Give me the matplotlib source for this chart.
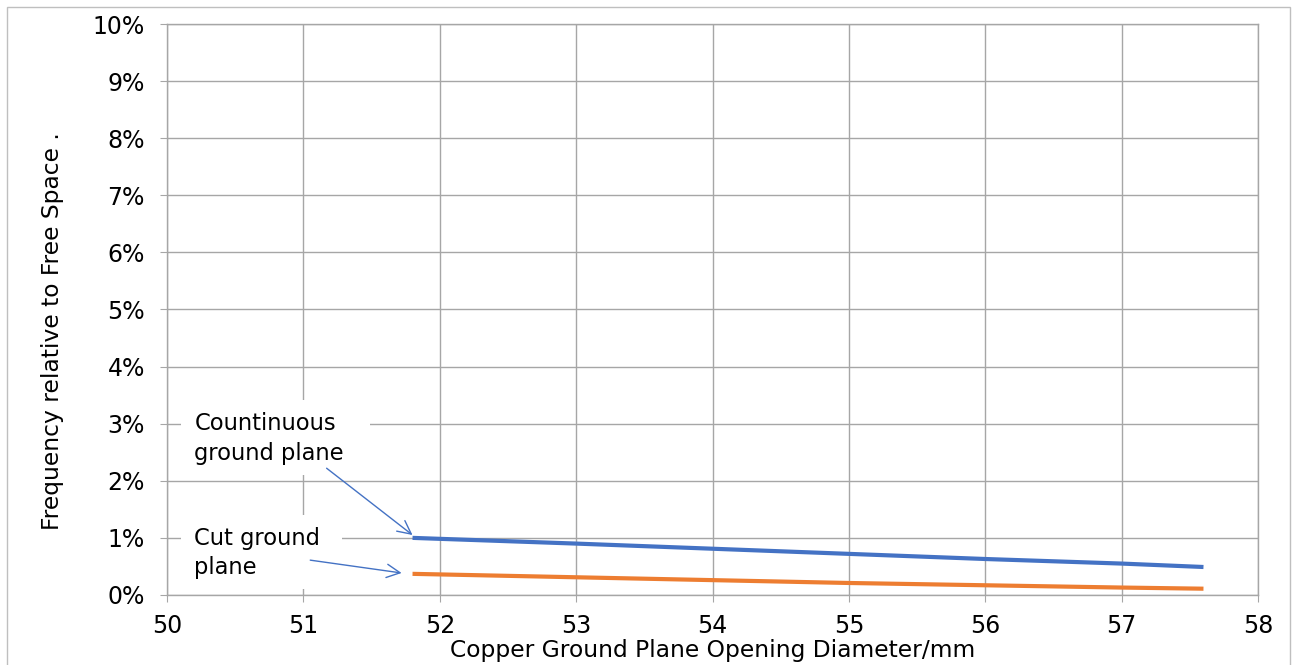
import matplotlib.pyplot as plt
from matplotlib.ticker import PercentFormatter
from matplotlib.patches import Rectangle

# diameters (mm) and frequency shift relative to free space (%)
diameter = [51.8, 53, 54, 55, 56, 57, 57.6]
continuous = [1.00, 0.90, 0.81, 0.72, 0.63, 0.55, 0.49]
cut = [0.37, 0.31, 0.26, 0.21, 0.17, 0.13, 0.11]

plt.rcParams['font.family'] = 'DejaVu Sans'
fs = 16.8

fig = plt.figure(figsize=(12.92, 6.65), dpi=100)
ax = fig.add_axes([0.1293, 0.1053, 0.8444, 0.8586])

grid_col = '#a6a6a6'
ax.plot(diameter, continuous, color='#4472c4', lw=3, solid_capstyle='butt', zorder=3)
ax.plot(diameter, cut, color='#ed7d31', lw=3, solid_capstyle='butt', zorder=3)

ax.set_xlim(50, 58)
ax.set_ylim(0, 10)
ax.set_xticks(range(50, 59))
ax.set_yticks(range(0, 11))
ax.yaxis.set_major_formatter(PercentFormatter(decimals=0))
ax.grid(True, color=grid_col, lw=1)
ax.set_axisbelow(True)
for s in ax.spines.values():
    s.set_color(grid_col)
    s.set_linewidth(1)
ax.tick_params(axis='both', labelsize=17, length=5, color=grid_col)
ax.tick_params(axis='y', pad=11)
ax.tick_params(axis='x', pad=9)

ax.set_xlabel('Copper Ground Plane Opening Diameter/mm', fontsize=fs)
ax.xaxis.set_label_coords(0.5, -(651 - 595) / 571, transform=ax.transAxes)
ax.xaxis.label.set_va('center')
ax.set_ylabel('Frequency relative to Free Space .', fontsize=fs)
ax.yaxis.set_label_coords((52 - 167) / 1091, 1 - (331 - 24) / 571)
ax.yaxis.label.set_va('center')

# white boxes behind the annotation text (they hide the grid)
ax.add_patch(Rectangle((50.1, 2.10), 1.39, 1.31, facecolor='white', edgecolor='none', zorder=1.5))
ax.add_patch(Rectangle((50.1, 0.1), 1.18, 1.30, facecolor='white', edgecolor='none', zorder=1.5))

ax.text(50.2, 2.74, 'Countinuous\nground plane', fontsize=16.3, va='center', ha='left',
        linespacing=1.35, zorder=4)
ax.text(50.2, 0.73, 'Cut ground\nplane', fontsize=16.3, va='center', ha='left',
        linespacing=1.35, zorder=4)

arrow = dict(arrowstyle='->', color='#4472c4', lw=1, mutation_scale=24, shrinkA=0, shrinkB=0)
ax.annotate('', xy=(51.80, 1.05), xytext=(51.17, 2.22), arrowprops=arrow, zorder=4)
ax.annotate('', xy=(51.72, 0.385), xytext=(51.05, 0.61), arrowprops=arrow, zorder=4)

fig.patches.append(Rectangle((7 / 1292, -0.01), 1283 / 1292, 1 - 7 / 665 + 0.01,
                             transform=fig.transFigure, fill=False,
                             edgecolor='#bfbfbf', lw=1))

fig.savefig('out.png', dpi=100)
